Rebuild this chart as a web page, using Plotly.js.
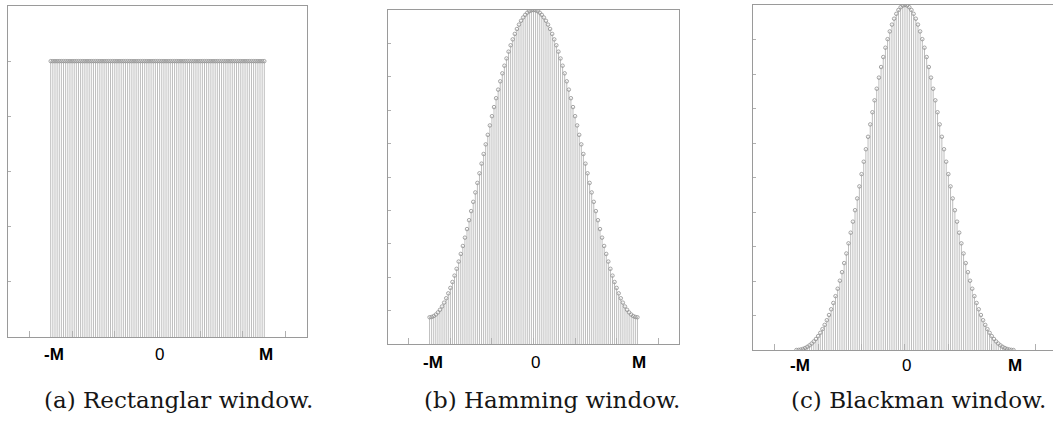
<!DOCTYPE html>
<html>
<head>
<meta charset="utf-8">
<script src="https://cdn.plot.ly/plotly-3.0.1.min.js"></script>
<style>html,body{margin:0;padding:0;background:#fff;}#chart{width:1053px;height:421px;}</style>
</head>
<body>
<div id="chart"></div>
<script>
// sample index n = -M..M (M = 50)
const sampleIndex = [-50,-49,-48,-47,-46,-45,-44,-43,-42,-41,-40,-39,-38,-37,-36,-35,-34,-33,-32,-31,-30,-29,-28,-27,-26,-25,-24,-23,-22,-21,-20,-19,-18,-17,-16,-15,-14,-13,-12,-11,-10,-9,-8,-7,-6,-5,-4,-3,-2,-1,0,1,2,3,4,5,6,7,8,9,10,11,12,13,14,15,16,17,18,19,20,21,22,23,24,25,26,27,28,29,30,31,32,33,34,35,36,37,38,39,40,41,42,43,44,45,46,47,48,49,50];

const rectangularValues = [1,1,1,1,1,1,1,1,1,1,1,1,1,1,1,1,1,1,1,1,1,1,1,1,1,1,1,1,1,1,1,1,1,1,1,1,1,1,1,1,1,1,1,1,1,1,1,1,1,1,1,1,1,1,1,1,1,1,1,1,1,1,1,1,1,1,1,1,1,1,1,1,1,1,1,1,1,1,1,1,1,1,1,1,1,1,1,1,1,1,1,1,1,1,1,1,1,1,1,1,1];

const hammingValues = [0.0800,0.0809,0.0836,0.0881,0.0945,0.1025,0.1123,0.1238,0.1369,0.1516,0.1679,0.1856,0.2047,0.2251,0.2468,0.2696,0.2935,0.3184,0.3441,0.3707,0.3979,0.4256,0.4538,0.4823,0.5111,0.5400,0.5689,0.5977,0.6262,0.6544,0.6821,0.7093,0.7359,0.7616,0.7865,0.8104,0.8332,0.8549,0.8753,0.8944,0.9121,0.9284,0.9431,0.9562,0.9677,0.9775,0.9855,0.9919,0.9964,0.9991,1.0000,0.9991,0.9964,0.9919,0.9855,0.9775,0.9677,0.9562,0.9431,0.9284,0.9121,0.8944,0.8753,0.8549,0.8332,0.8104,0.7865,0.7616,0.7359,0.7093,0.6821,0.6544,0.6262,0.5977,0.5689,0.5400,0.5111,0.4823,0.4538,0.4256,0.3979,0.3707,0.3441,0.3184,0.2935,0.2696,0.2468,0.2251,0.2047,0.1856,0.1679,0.1516,0.1369,0.1238,0.1123,0.1025,0.0945,0.0881,0.0836,0.0809,0.0800];

const blackmanValues = [0.0000,0.0004,0.0014,0.0032,0.0058,0.0092,0.0134,0.0186,0.0247,0.0319,0.0402,0.0497,0.0605,0.0727,0.0863,0.1014,0.1180,0.1363,0.1561,0.1776,0.2008,0.2256,0.2519,0.2798,0.3092,0.3400,0.3720,0.4052,0.4393,0.4742,0.5098,0.5457,0.5819,0.6180,0.6539,0.6892,0.7237,0.7573,0.7895,0.8202,0.8492,0.8762,0.9010,0.9234,0.9432,0.9603,0.9744,0.9855,0.9935,0.9984,1.0000,0.9984,0.9935,0.9855,0.9744,0.9603,0.9432,0.9234,0.9010,0.8762,0.8492,0.8202,0.7895,0.7573,0.7237,0.6892,0.6539,0.6180,0.5819,0.5457,0.5098,0.4742,0.4393,0.4052,0.3720,0.3400,0.3092,0.2798,0.2519,0.2256,0.2008,0.1776,0.1561,0.1363,0.1180,0.1014,0.0863,0.0727,0.0605,0.0497,0.0402,0.0319,0.0247,0.0186,0.0134,0.0092,0.0058,0.0032,0.0014,0.0004,0.0000];

const tickLabelText = ["-M", "0", "M"];
const tickLabelPos = [-50, 0, 50];
const captions = ["(a) Rectanglar window.", "(b) Hamming window.", "(c) Blackman window."];

const W = 1053, H = 421;
const stemColor = '#bdbdbd';
const markColor = '#8f8f8f';
const axisColor = '#9a9a9a';

function stemTraces(xs, ys, xa, ya) {
  const sx = [], sy = [];
  for (let i = 0; i < xs.length; i++) { sx.push(xs[i], xs[i], null); sy.push(0, ys[i], null); }
  return [
    {type:'scatter', mode:'lines', x:sx, y:sy, xaxis:xa, yaxis:ya,
     line:{color:stemColor, width:1}, hoverinfo:'skip', showlegend:false},
    {type:'scatter', mode:'markers', x:xs, y:ys, xaxis:xa, yaxis:ya,
     marker:{symbol:'circle-open', size:3.5, color:markColor, line:{width:0.8, color:markColor}},
     showlegend:false}
  ];
}

const data = [].concat(
  stemTraces(sampleIndex, rectangularValues, 'x', 'y'),
  stemTraces(sampleIndex, hammingValues, 'x2', 'y2'),
  stemTraces(sampleIndex, blackmanValues, 'x3', 'y3')
);

function px(x){ return x / W; }
function py(yTop, yBottom){ return [(H - yBottom) / H, (H - yTop) / H]; }

function xAxis(dom, range, anchor, mirror) {
  return {domain:dom, range:range, anchor:anchor, showgrid:false, zeroline:false,
    showline:true, linecolor:axisColor, linewidth:1, mirror:mirror,
    ticks:'inside', tickvals:[-60,-40,-20,0,20,40,60], ticklen:6, tickcolor:'#b0b0b0',
    showticklabels:false, fixedrange:true};
}
function yAxis(dom, range, anchor, dtick, mirror) {
  return {domain:dom, range:range, anchor:anchor, showgrid:false, zeroline:false,
    showline:true, linecolor:axisColor, linewidth:1, mirror:mirror,
    ticks:'inside', dtick:dtick, tick0:0, ticklen:3, tickcolor:'#b0b0b0',
    showticklabels:false, fixedrange:true};
}

const annotations = [];
const labelY = [354, 362, 365];
const axisNames = ['x', 'x2', 'x3'];
for (let p = 0; p < 3; p++) {
  for (let i = 0; i < 3; i++) {
    annotations.push({xref:axisNames[p], yref:'paper', x:tickLabelPos[i] + (i === 0 ? 1.5 : 0.8), y:(H - labelY[p]) / H,
      text: tickLabelText[i] === '0' ? '0' : '<b>' + tickLabelText[i] + '</b>',
      showarrow:false, xanchor:'center', yanchor:'middle',
      font:{family:'Liberation Sans, Arial, sans-serif', size:17, color:'#000'}});
  }
}
const capX = [178, 552, 918];
for (let p = 0; p < 3; p++) {
  annotations.push({xref:'paper', yref:'paper', x:capX[p] / W, y:(H - 400) / H,
    text:captions[p], showarrow:false, xanchor:'center', yanchor:'middle',
    font:{family:'DejaVu Serif, serif', size:23, color:'#161616'}});
}

const layout = {
  width:W, height:H, margin:{l:0, r:0, t:0, b:0},
  paper_bgcolor:'#fff', plot_bgcolor:'#fff', showlegend:false,
  xaxis: xAxis([px(8), px(307)], [-70, 70], 'y', true),
  yaxis: yAxis(py(6, 337), [0, 1.2], 'x', 0.2, true),
  xaxis2: xAxis([px(388), px(679)], [-70, 70], 'y2', true),
  yaxis2: yAxis(py(10, 344), [0, 1], 'x2', 0.1, true),
  xaxis3: xAxis([px(753), 1], [-70, 68.2], 'y3', true),
  yaxis3: yAxis(py(5, 350), [0, 1], 'x3', 0.1, false),
  annotations: annotations
};

Plotly.newPlot('chart', data, layout, {staticPlot:true, displayModeBar:false});
</script>
</body>
</html>
